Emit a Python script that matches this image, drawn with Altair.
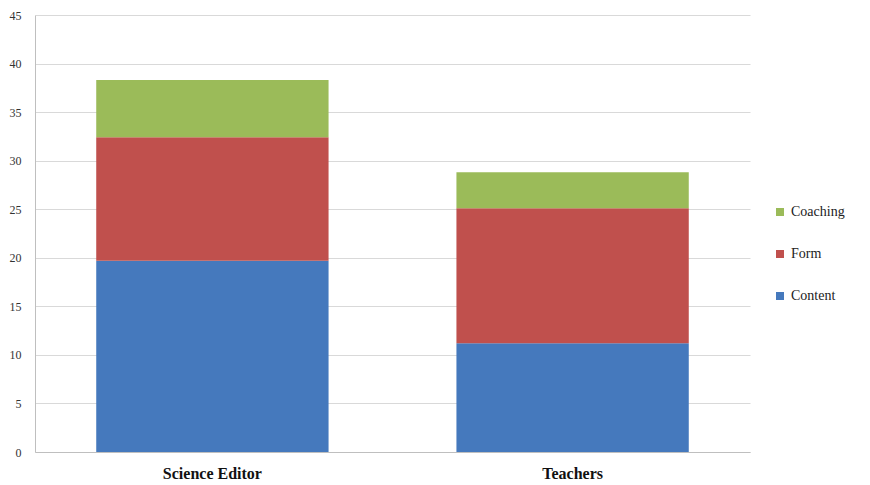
import altair as alt
import pandas as pd

groups = ["Science Editor", "Teachers"]
categories = ["Content", "Form", "Coaching"]
content = [19.7, 11.2]
form = [12.7, 13.9]
coaching = [5.9, 3.7]

rows = []
for i, g in enumerate(groups):
    for j, (c, vals) in enumerate(zip(categories, [content, form, coaching])):
        rows.append({"group": g, "category": c, "value": vals[i], "ord": j})
df = pd.DataFrame(rows)

serif = "Liberation Serif"

chart = alt.Chart(df).mark_bar().encode(
    x=alt.X("group:N", sort=groups, title=None,
            scale=alt.Scale(paddingInner=0.355, paddingOuter=0.17),
            axis=alt.Axis(labelAngle=0, labelFont=serif, labelFontSize=16,
                          labelFontWeight="bold", labelColor="#111111", grid=False,
                          ticks=False, domainColor="#bfbfbf", labelPadding=13)),
    y=alt.Y("value:Q", title=None, stack="zero",
            scale=alt.Scale(domain=[0, 45], nice=False),
            axis=alt.Axis(values=list(range(0, 50, 5)), labelFont=serif,
                          labelFontSize=12, labelColor="#333333",
                          ticks=False, labelPadding=14, domainColor="#bfbfbf",
                          gridColor="#d9d9d9")),
    color=alt.Color("category:N",
                    scale=alt.Scale(domain=["Coaching", "Form", "Content"],
                                    range=["#9BBB59", "#C0504D", "#4579BD"]),
                    legend=alt.Legend(title=None, orient="none", legendX=738, legendY=190,
                                      symbolType="square", symbolSize=64,
                                      labelFont=serif, labelFontSize=14,
                                      labelColor="#222222", rowPadding=28,
                                      symbolStrokeWidth=0)),
    order=alt.Order("ord:Q", sort="ascending"),
).properties(
    width=715, height=437,
    autosize=alt.AutoSizeParams(type="none"),
    padding={"left": 27, "top": 7, "right": 100, "bottom": 30},
).configure(
    background="white",
    view=alt.ViewConfig(stroke="white"),
)

chart.save("out.html", embed_options={"renderer": "svg", "actions": False})
